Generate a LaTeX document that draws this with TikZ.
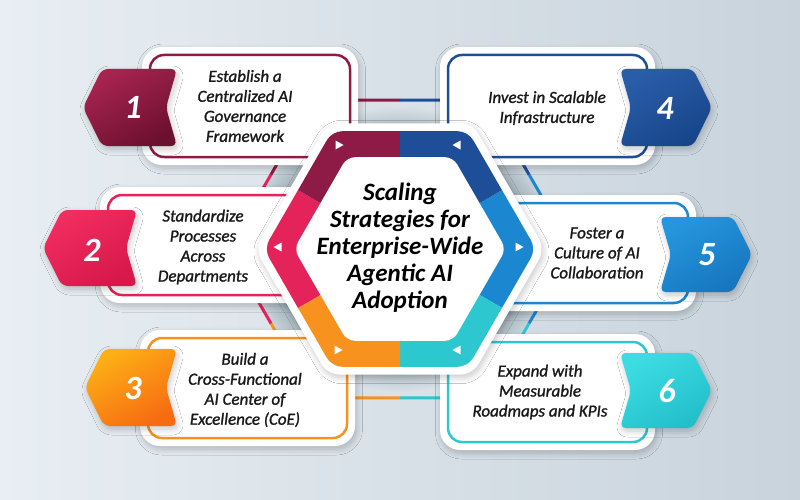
\documentclass[tikz,border=0pt]{standalone}
\usepackage{fontspec}
\setmainfont{Carlito}
\newfontfamily\boxfont[FakeBold=1.3]{Carlito}
\usetikzlibrary{shadows.blur}
\definecolor{bgL}{HTML}{E8EEF3}
\definecolor{bgR}{HTML}{C8D3DC}
\definecolor{ringdark}{HTML}{A3B2BB}
\definecolor{ringlight}{HTML}{DAE2E8}
\definecolor{cMA}{HTML}{8E1B45}
\definecolor{cDB}{HTML}{1E4E98}
\definecolor{cCR}{HTML}{E3235A}
\definecolor{cMB}{HTML}{1B87D1}
\definecolor{cOR}{HTML}{F7921E}
\definecolor{cTE}{HTML}{2DC7D0}
\definecolor{bMAa}{HTML}{A82450}\definecolor{bMAb}{HTML}{6C1030}
\definecolor{bCRa}{HTML}{F22D60}\definecolor{bCRb}{HTML}{D7184A}
\definecolor{bORa}{HTML}{FDB016}\definecolor{bORb}{HTML}{F76B12}
\definecolor{bDBa}{HTML}{2A5DA8}\definecolor{bDBb}{HTML}{17458A}
\definecolor{bMBa}{HTML}{2596DD}\definecolor{bMBb}{HTML}{1676BF}
\definecolor{bTEa}{HTML}{3DDCE2}\definecolor{bTEb}{HTML}{22BFCB}
\pgfdeclareradialshading{ringshade}{\pgfpoint{0bp}{0bp}}{color(0bp)=(ringdark); color(19bp)=(ringdark); color(24bp)=(ringlight); color(50bp)=(ringlight)}
\tikzset{
  hexp/.style={insert path={(30:{#1*0.8660254}) -- (60:#1) -- (120:#1) -- (180:#1) -- (240:#1) -- (300:#1) -- (360:#1) -- cycle}},
  softshadow/.style={blur shadow={shadow blur steps=10, shadow xshift=1.5pt, shadow yshift=-3pt, shadow blur radius=6pt, shadow opacity=22}},
  boxtext/.style={font=\boxfont\fontsize{17}{20}\selectfont\itshape, align=center, text=black!90},
  numtext/.style={font=\fontsize{34}{36}\selectfont\bfseries\itshape, text=white},
  titletext/.style={font=\fontsize{25}{27}\selectfont\bfseries\itshape, align=center, text=black},
}
\newcommand\infobox[5]{%
  \fill[white, softshadow, rounded corners=20] ({#1-8},{#2-8}) rectangle ({#3+8},{#4+8});
  \draw[#5, line width=2.5pt, fill=white, rounded corners=14] (#1,#2) rectangle (#3,#4);
}
\newcommand\badgeL[6]{%
  \shade[softshadow, top color=#5, bottom color=#6, shading angle=30, rounded corners=6]
   ({(#1+#3)/2},#2) -- (#3,#2) -- ({#3-11},{(#2+#4)/2}) -- (#3,#4) -- ({#1+19},#4) -- (#1,{(#2+#4)/2}) -- ({#1+19},#2) -- cycle;
}
\newcommand\badgeR[6]{%
  \shade[softshadow, top color=#5, bottom color=#6, shading angle=30, rounded corners=6]
   ({(#1+#3)/2},#2) -- ({#3-19},#2) -- (#3,{(#2+#4)/2}) -- ({#3-19},#4) -- (#1,#4) -- ({#1+11},{(#2+#4)/2}) -- (#1,#2) -- cycle;
}
\newcommand\triR[2]{\fill[white] ({#1-3.5},{#2-4.5}) -- ({#1+4.5},#2) -- ({#1-3.5},{#2+4.5}) -- cycle;}
\newcommand\triL[2]{\fill[white] ({#1+3.5},{#2-4.5}) -- ({#1-4.5},#2) -- ({#1+3.5},{#2+4.5}) -- cycle;}
\begin{document}
\begin{tikzpicture}[x=1pt,y=-1pt]
\useasboundingbox (0,0) rectangle (800,500);
\shade[left color=bgL, right color=bgR] (0,0) rectangle (800,500);
% back hexagon frame
\begin{scope}[shift={(400,249)}]
  \shade[shading=ringshade, rounded corners=6, hexp=172];
  \foreach \a/\c in {0/cMB,60/cTE,120/cOR,180/cCR,240/cMA,300/cDB}{
    \begin{scope}
      \clip (0,0) -- (\a-30:400) -- (\a+30:400) -- cycle;
      \draw[\c, line width=3pt, rounded corners=6, hexp=172];
    \end{scope}
  }
\end{scope}
% boxes
\infobox{150}{55}{350}{157}{cMA}
\infobox{448}{55}{647}{157}{cDB}
\infobox{108}{195}{330}{295}{cCR}
\infobox{470}{203}{688}{303}{cMB}
\infobox{148}{338}{347}{438}{cOR}
\infobox{448}{342}{647}{442}{cTE}
% badges
\badgeL{83}{69}{177}{146}{bMAa}{bMAb}
\badgeL{43}{210}{137}{286}{bCRa}{bCRb}
\badgeL{85}{349}{177}{426}{bORa}{bORb}
\badgeR{620}{69}{712}{146}{bDBa}{bDBb}
\badgeR{660}{217}{752}{292}{bMBa}{bMBb}
\badgeR{620}{353}{712}{428}{bTEa}{bTEb}
% central hexagon
\begin{scope}[shift={(400,249)}]
  \fill[white, softshadow, rounded corners=12, hexp=145];
  \foreach \a/\c in {0/cMB,60/cTE,120/cOR,180/cCR,240/cMA,300/cDB}{
    \begin{scope}
      \clip (0,0) -- (\a-30:400) -- (\a+30:400) -- cycle;
      \fill[\c, rounded corners=10, hexp=136];
    \end{scope}
  }
  \fill[white, rounded corners=8, hexp=106];
\end{scope}
\triR{339}{145}
\triL{457}{145}
\triL{278}{247}
\triR{519}{247}
\triR{338}{350}
\triL{457}{350}
% texts
\node[titletext] (title) at (400,248) {Scaling\\Strategies for\\Enterprise-Wide\\Agentic AI\\Adoption};
\node[boxtext] (t1) at (245,106) {Establish a\\Centralized AI\\Governance\\Framework};
\node[boxtext] (t4) at (547,108) {Invest in Scalable\\Infrastructure};
\node[boxtext] (t2) at (203,247) {Standardize\\Processes\\Across\\Departments};
\node[boxtext] (t5) at (597,253) {Foster a\\Culture of AI\\Collaboration};
\node[boxtext] (t3) at (245,390) {Build a\\Cross-Functional\\AI Center of\\Excellence (CoE)};
\node[boxtext] (t6) at (540,392) {Expand with\\Measurable\\Roadmaps and KPIs};
\node[numtext] (n1) at (133,107) {1};
\node[numtext] (n2) at (92,250) {2};
\node[numtext] (n3) at (133,388) {3};
\node[numtext] (n4) at (665,108) {4};
\node[numtext] (n5) at (707,255) {5};
\node[numtext] (n6) at (667,391) {6};
\end{tikzpicture}
\end{document}
